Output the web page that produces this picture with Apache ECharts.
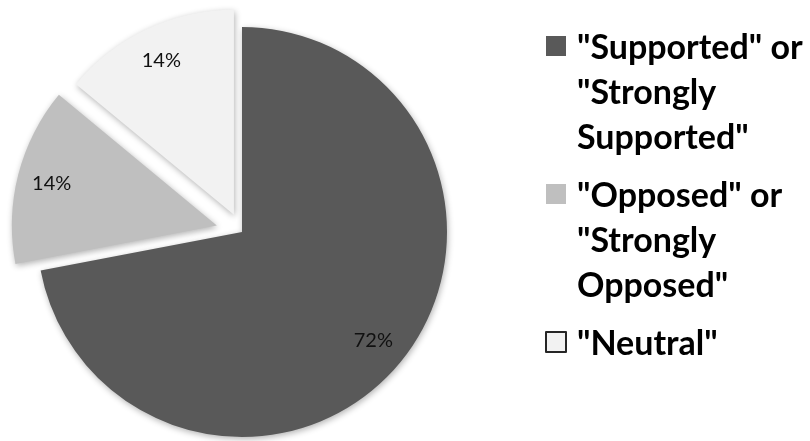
<!DOCTYPE html>
<html>
<head>
<meta charset="utf-8">
<script src="https://cdn.jsdelivr.net/npm/echarts@6/dist/echarts.min.js"></script>
<style>html,body{margin:0;padding:0;background:#fff}#c{width:810px;height:441px}</style>
</head>
<body>
<div id="c"></div>
<script>
const categories = ['"Supported" or "Strongly Supported"', '"Opposed" or "Strongly Opposed"', '"Neutral"'];
const values = [72, 14, 14];
const legendLines = ['"Supported" or\n"Strongly\nSupported"', '"Opposed" or\n"Strongly\nOpposed"', '"Neutral"'];
const colors = ['#595959', '#bfbfbf', '#f2f2f2'];
const explodeOffsets = [0, 26, 19];

const chart = echarts.init(document.getElementById('c'), null, {renderer: 'canvas'});
const center = [242, 232];
const R = 205;
const LH = 45;
const CLEAR = 'rgba(0,0,0,0)';

// pad each legend label to 5 lines so the icon sits beside its first line
function padLines(txt) {
  const n = txt.split('\n').length;
  return '\n\n' + txt + '\n'.repeat(Math.max(0, 3 - n));
}

// one group of series per distinct explode offset
const groups = [...new Set(explodeOffsets.filter(o => o > 0))];
const groupOf = i => explodeOffsets[i] === 0 ? groups[0] : explodeOffsets[i];

const series = [];
groups.forEach(g => {
  const owns = i => groupOf(i) === g;
  series.push({
    type: 'pie', center: center, radius: [0, R], startAngle: 90,
    selectedMode: 'multiple', selectedOffset: g, silent: true,
    label: {show: false}, labelLine: {show: false},
    emphasis: {disabled: true},
    itemStyle: {borderWidth: 0, shadowBlur: 6, shadowColor: 'rgba(0,0,0,0.3)', shadowOffsetX: 1, shadowOffsetY: 2},
    data: categories.map((n, i) => ({
      name: n, value: values[i], selected: explodeOffsets[i] === g,
      itemStyle: {color: owns(i) ? colors[i] : CLEAR}
    }))
  });
});
groups.forEach(g => {
  const owns = i => groupOf(i) === g;
  series.push({
    type: 'pie', center: center, radius: [130, R], startAngle: 90,
    selectedMode: 'multiple', selectedOffset: g, silent: true,
    itemStyle: {color: CLEAR, borderWidth: 0},
    labelLine: {show: false},
    emphasis: {disabled: true},
    label: {show: true, position: 'inside', formatter: '{c}%', fontFamily: 'Lato', fontSize: 20, color: '#111'},
    data: categories.map((n, i) => ({
      name: n, value: values[i], selected: explodeOffsets[i] === g,
      label: {show: owns(i)}
    }))
  });
});

chart.setOption({
  animation: false,
  legend: {
    orient: 'vertical',
    left: 545,
    top: 48 - 2.5 * LH,
    height: 2000,
    padding: 0,
    itemWidth: 26,
    itemHeight: 24,
    itemGap: 148 - 5 * LH,
    icon: 'path://M0,0H20V20H0Z M26,24L26,24',
    selectedMode: false,
    textStyle: {fontFamily: 'Lato', fontWeight: 'bold', fontSize: 34, lineHeight: LH, color: '#000'},
    formatter: name => padLines(legendLines[categories.indexOf(name)]),
    data: categories.map((n, i) => ({
      name: n,
      itemStyle: Object.assign({color: colors[i], shadowBlur: 0, shadowOffsetX: 0, shadowOffsetY: 0, borderWidth: 0},
        i === 2 ? {borderColor: '#262626', borderWidth: 2} : {})
    }))
  },
  series: series
});
</script>
</body>
</html>
